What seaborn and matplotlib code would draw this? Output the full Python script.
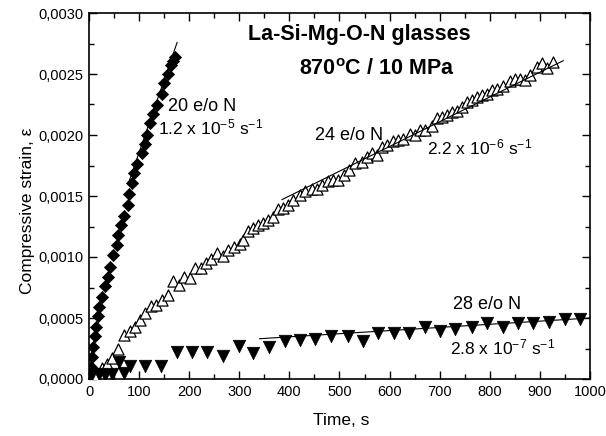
import matplotlib
matplotlib.use("Agg")
import matplotlib.pyplot as plt
import seaborn as sns
import pandas as pd
from matplotlib.ticker import MultipleLocator, FuncFormatter

# ---- data ----
x20 = [2, 3, 5, 7, 11, 14, 18, 20, 25, 32, 37, 42, 48, 55, 58, 64, 70, 77, 80, 85,
       90, 96, 105, 112, 115, 122, 128, 135, 145, 150, 157, 164, 168, 172]
y20 = [0.00003, 0.0001, 0.00018, 0.00026, 0.00035, 0.00043, 0.00052, 0.00059, 0.00067, 0.00076,
       0.00084, 0.00092, 0.00102, 0.0011, 0.00118, 0.00126, 0.00134, 0.00143, 0.00152, 0.00161,
       0.00169, 0.00176, 0.00185, 0.00193, 0.002, 0.0021, 0.00217, 0.00225, 0.00234, 0.00243,
       0.0025, 0.00257, 0.00261, 0.00264]

x24 = [11, 25, 35, 45, 58, 70, 81, 91, 101, 112, 123, 134, 146, 158, 168, 179, 190, 201, 212, 224,
       234, 244, 256, 267, 277, 289, 301, 308, 318, 328, 338, 348, 358, 368, 378, 388, 398, 408, 421, 431,
       445, 455, 465, 478, 488, 498, 508, 518, 531, 544, 554, 564, 574, 584, 594, 607, 617, 627, 641, 651,
       661, 671, 684, 694, 704, 714, 724, 734, 744, 754, 764, 774, 784, 794, 804, 814, 827, 840, 850, 860,
       870, 880, 894, 904, 914, 927]
y24 = [0.00002, 0.00009, 0.00012, 0.00017, 0.00025, 0.00036, 0.00039, 0.00043, 0.00048, 0.00054,
       0.0006, 0.00061, 0.00065, 0.00069, 0.0008, 0.00077, 0.00084, 0.00083, 0.00091, 0.00091,
       0.00095, 0.00098, 0.00103, 0.00101, 0.00106, 0.00108, 0.00111, 0.00114, 0.00121, 0.00124,
       0.00126, 0.00128, 0.0013, 0.00133, 0.00139, 0.0014, 0.00143, 0.00147, 0.00151, 0.00154,
       0.00156, 0.00156, 0.00159, 0.00162, 0.00163, 0.00163, 0.00167, 0.00171, 0.00177, 0.00178,
       0.00182, 0.00185, 0.00184, 0.0019, 0.00192, 0.00195, 0.00196, 0.00197, 0.00201, 0.002,
       0.00204, 0.00204, 0.00207, 0.00214, 0.00215, 0.00216, 0.00219, 0.0022, 0.00223, 0.00227,
       0.00229, 0.00231, 0.00233, 0.00234, 0.00237, 0.00238, 0.0024, 0.00244, 0.00246, 0.00246,
       0.00245, 0.00249, 0.00256, 0.00259, 0.00255, 0.0026]

x28 = [5, 20, 32, 45, 60, 70, 82, 112, 143, 175, 205, 236, 267, 299, 328, 360, 391, 421, 452, 484,
       516, 546, 577, 609, 639, 671, 700, 730, 764, 795, 826, 857, 887, 919, 950, 981]
y28 = [0.00004, 0.00004, 0.00003, 0.00004, 0.00014, 0.00005, 0.00011, 0.00011, 0.00011, 0.00022,
       0.00022, 0.00022, 0.00019, 0.00027, 0.00021, 0.00026, 0.00031, 0.00032, 0.00033, 0.00035,
       0.00035, 0.00031, 0.00038, 0.00038, 0.00038, 0.00043, 0.00039, 0.00041, 0.00043, 0.00046,
       0.00043, 0.00046, 0.00046, 0.00047, 0.00049, 0.00049]

fit20_x = [80, 176]
fit20_y = [0.00162, 0.00276]
fit24_x = [385, 947]
fit24_y = [0.00147, 0.00261]
fit28_x = [340, 1000]
fit28_y = [0.00033, 0.0005]

title_lines = ["La-Si-Mg-O-N glasses", "870$^{\\mathbf{o}}$C / 10 MPa"]
labels = ["20 e/o N", "24 e/o N", "28 e/o N"]
rates = ["1.2 x 10$^{-5}$ s$^{-1}$", "2.2 x 10$^{-6}$ s$^{-1}$", "2.8 x 10$^{-7}$ s$^{-1}$"]
xlabel = "Time, s"
ylabel = "Compressive strain, ε"

# ---- style ----
sns.set_theme(style="ticks")
plt.rcParams["font.family"] = ["Liberation Sans", "DejaVu Sans"]
plt.rcParams["mathtext.fontset"] = "custom"
plt.rcParams["mathtext.rm"] = "Liberation Sans"
plt.rcParams["mathtext.it"] = "Liberation Sans:italic"
plt.rcParams["mathtext.bf"] = "Liberation Sans:bold"
for k in ["text.color", "axes.labelcolor", "xtick.color", "ytick.color", "axes.edgecolor"]:
    plt.rcParams[k] = "black"

fig = plt.figure(figsize=(6.06, 4.36), dpi=100)
ax = fig.add_axes([89 / 606, 1 - 379 / 436, (590 - 89) / 606, (379 - 13) / 436])

d20 = pd.DataFrame({"t": x20, "e": y20})
d24 = pd.DataFrame({"t": x24, "e": y24})
d28 = pd.DataFrame({"t": x28, "e": y28})

sns.scatterplot(data=d20, x="t", y="e", marker="D", s=6.2 ** 2, color="black",
                edgecolor="black", linewidth=0.5, ax=ax, zorder=3)
sns.scatterplot(data=d24, x="t", y="e", marker="^", s=8.0 ** 2, facecolor="white",
                edgecolor="black", linewidth=0.9, ax=ax, zorder=3)
sns.scatterplot(data=d28, x="t", y="e", marker="v", s=9.0 ** 2, color="black",
                edgecolor="black", linewidth=0.5, ax=ax, zorder=3)

for fx, fy in [(fit20_x, fit20_y), (fit24_x, fit24_y), (fit28_x, fit28_y)]:
    sns.lineplot(x=fx, y=fy, color="black", linewidth=0.8, ax=ax, zorder=4)

ax.set_xlim(0, 1000)
ax.set_ylim(0, 0.003)
ax.xaxis.set_major_locator(MultipleLocator(100))
ax.xaxis.set_minor_locator(MultipleLocator(50))
ax.yaxis.set_major_locator(MultipleLocator(0.0005))
ax.yaxis.set_minor_locator(MultipleLocator(0.00025))
ax.yaxis.set_major_formatter(FuncFormatter(lambda v, p: f"{v:.4f}".replace(".", ",")))
ax.xaxis.set_major_formatter(FuncFormatter(lambda v, p: f"{int(round(v))}"))

ax.tick_params(which="both", direction="in", top=True, right=True, colors="black",
               labelsize=10.5, width=1.0, pad=4)
ax.tick_params(which="major", length=6)
ax.tick_params(which="minor", length=3.5)
for sp in ax.spines.values():
    sp.set_linewidth(1.2)
    sp.set_color("black")

ax.set_xlabel(xlabel, fontsize=12.5)
ax.set_ylabel(ylabel, fontsize=12.5)
ax.xaxis.set_label_coords(0.503, -0.093)
ax.yaxis.set_label_coords(-0.107, 0.46)

ax.text(539, 0.00282, title_lines[0], fontsize=15.5, fontweight="bold", ha="center", va="center")
ax.text(575, 0.00254, title_lines[1], fontsize=15.5, fontweight="bold", ha="center", va="center")

ax.text(158, 0.00223, labels[0], fontsize=13, ha="left", va="center")
ax.text(138, 0.00206, rates[0], fontsize=12.5, ha="left", va="center")
ax.text(451, 0.00200, labels[1], fontsize=13, ha="left", va="center")
ax.text(675, 0.00190, rates[1], fontsize=12.5, ha="left", va="center")
ax.text(727, 0.00061, labels[2], fontsize=13, ha="left", va="center")
ax.text(721, 0.00026, rates[2], fontsize=12.5, ha="left", va="center")

fig.savefig("out.png", dpi=100)
